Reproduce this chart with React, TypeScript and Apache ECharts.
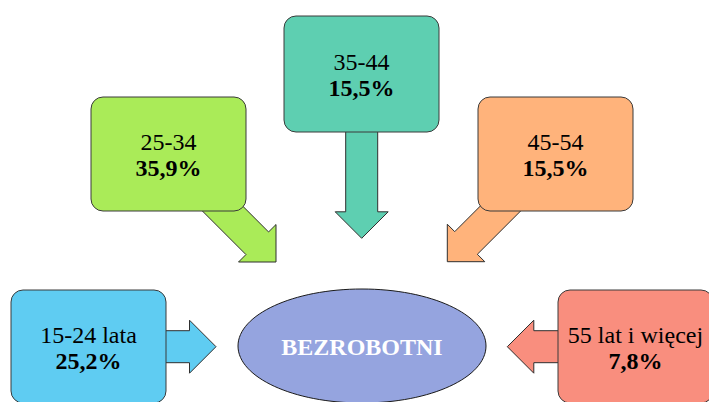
import React, { useEffect, useRef } from "react";
import * as echarts from "echarts";

// ---- data ----
const categories = ["15-24 lata", "25-34", "35-44", "45-54", "55 lat i więcej"];
const shares = [25.2, 35.9, 15.5, 15.5, 7.8];
const centerLabel = "BEZROBOTNI";

// ---- styling / layout ----
const fills = ["#5FCCF2", "#AAEB58", "#5ECFB1", "#FFB37B", "#F98E7E"];
const boxes = [
  { x: 11, y: 290, w: 155, h: 113 },
  { x: 91, y: 97, w: 155, h: 114 },
  { x: 284, y: 16, w: 155, h: 116 },
  { x: 478, y: 97, w: 155, h: 114 },
  { x: 558, y: 290, w: 155, h: 113 },
];
const arrows = [
  { tx: 216, ty: 346.7, angle: 0, len: 60 },
  { tx: 276, ty: 262, angle: 45, len: 92 },
  { tx: 361.7, ty: 238.3, angle: 90, len: 116 },
  { tx: 447.3, ty: 261.7, angle: 135, len: 92 },
  { tx: 507.3, ty: 346.7, angle: 180, len: 60 },
];
const ellipseShape = { cx: 362, cy: 346, rx: 124, ry: 57 };
const HEAD_LEN = 26.5;
const HEAD_HALF = 26.5;
const SHAFT_HALF = 16;

function arrowPoints(a: { tx: number; ty: number; angle: number; len: number }) {
  const local = [
    [0, 0],
    [-HEAD_LEN, -HEAD_HALF],
    [-HEAD_LEN, -SHAFT_HALF],
    [-a.len, -SHAFT_HALF],
    [-a.len, SHAFT_HALF],
    [-HEAD_LEN, SHAFT_HALF],
    [-HEAD_LEN, HEAD_HALF],
  ];
  const r = (a.angle * Math.PI) / 180;
  const c = Math.cos(r);
  const s = Math.sin(r);
  return local.map(([px, py]) => [a.tx + px * c - py * s, a.ty + px * s + py * c]);
}

function fmt(v: number) {
  return v.toFixed(1).replace(".", ",") + "%";
}

function textEl(x: number, y: number, text: string, bold: boolean, fill = "#000") {
  return {
    type: "text",
    x,
    y,
    style: {
      text,
      fill,
      font: (bold ? "bold " : "") + "24px 'Liberation Serif', serif",
      align: "center",
      verticalAlign: "middle",
      textAlign: "center",
      textVerticalAlign: "middle",
    },
  };
}

export default function App() {
  const ref = useRef<HTMLDivElement>(null);
  useEffect(() => {
    if (!ref.current) return;
    const chart = echarts.init(ref.current, undefined, { renderer: "svg" });
    const elements: any[] = [];
    arrows.forEach((a, i) => {
      elements.push({
        type: "polygon",
        shape: { points: arrowPoints(a) },
        style: { fill: fills[i], stroke: "#2f2f2f", lineWidth: 1 },
      });
    });
    boxes.forEach((b, i) => {
      elements.push({
        type: "rect",
        shape: { x: b.x, y: b.y, width: b.w, height: b.h, r: 12 },
        style: { fill: fills[i], stroke: "#3a3a3a", lineWidth: 1 },
      });
      const cx = b.x + b.w / 2;
      const cy = b.y + b.h / 2;
      elements.push(textEl(cx, cy - 12, categories[i], false));
      elements.push(textEl(cx, cy + 14, fmt(shares[i]), true));
    });
    elements.push({
      type: "ellipse",
      shape: ellipseShape,
      style: { fill: "#95A4DF", stroke: "#1a1a1a", lineWidth: 1 },
    });
    elements.push(textEl(ellipseShape.cx, ellipseShape.cy + 1, centerLabel, true, "#ffffff"));

    chart.setOption({
      animation: false,
      backgroundColor: "#ffffff",
      graphic: { elements },
    });
    return () => chart.dispose();
  }, []);
  return (
    <div
      ref={ref}
      style={{ position: "fixed", left: 0, top: 0, width: 709, height: 402 }}
    />
  );
}
